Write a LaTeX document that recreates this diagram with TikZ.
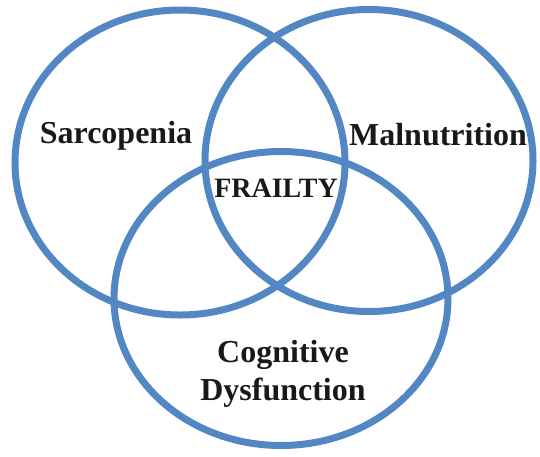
\documentclass[tikz,border=0pt]{standalone}
\usepackage{fontspec}
\setmainfont{Liberation Serif}
\usepackage{xcolor}
\usepackage{tikz}
\usetikzlibrary{shapes.geometric}
\definecolor{vennblue}{HTML}{5287C4}
\tikzstyle{ring} = [draw=vennblue, ellipse,
	line width=7pt,
	inner sep=0pt
	]
\tikzstyle{label} = [text=black!90,
	font=\bfseries\fontsize{32}{38}\selectfont,
	inner sep=0pt,
	anchor=base,
	align=center
	]

\begin{document}
\begin{tikzpicture}[x=1pt, y=-1pt]
    \useasboundingbox (0,0) rectangle (540,456);

    \node [ring, minimum width=330pt, minimum height=305pt] (sarcopenia) at (180,162.5) {};
    \node [ring, minimum width=328pt, minimum height=302pt] (malnutrition) at (369,160.5) {};
    \node [ring, minimum width=334pt, minimum height=294pt] (cognitive) at (281,298.5) {};

    \node [label] (sarcLabel) at (116,143) {Sarcopenia};
    \node [label] (malLabel) at (438,145) {Malnutrition};
    \node [label, font=\bfseries\fontsize{28}{32}\selectfont] (frailty) at (276,197) {FRAILTY};
    \node [label] (cogLabel) at (283,400) {Cognitive\\Dysfunction};
\end{tikzpicture}
\end{document}
